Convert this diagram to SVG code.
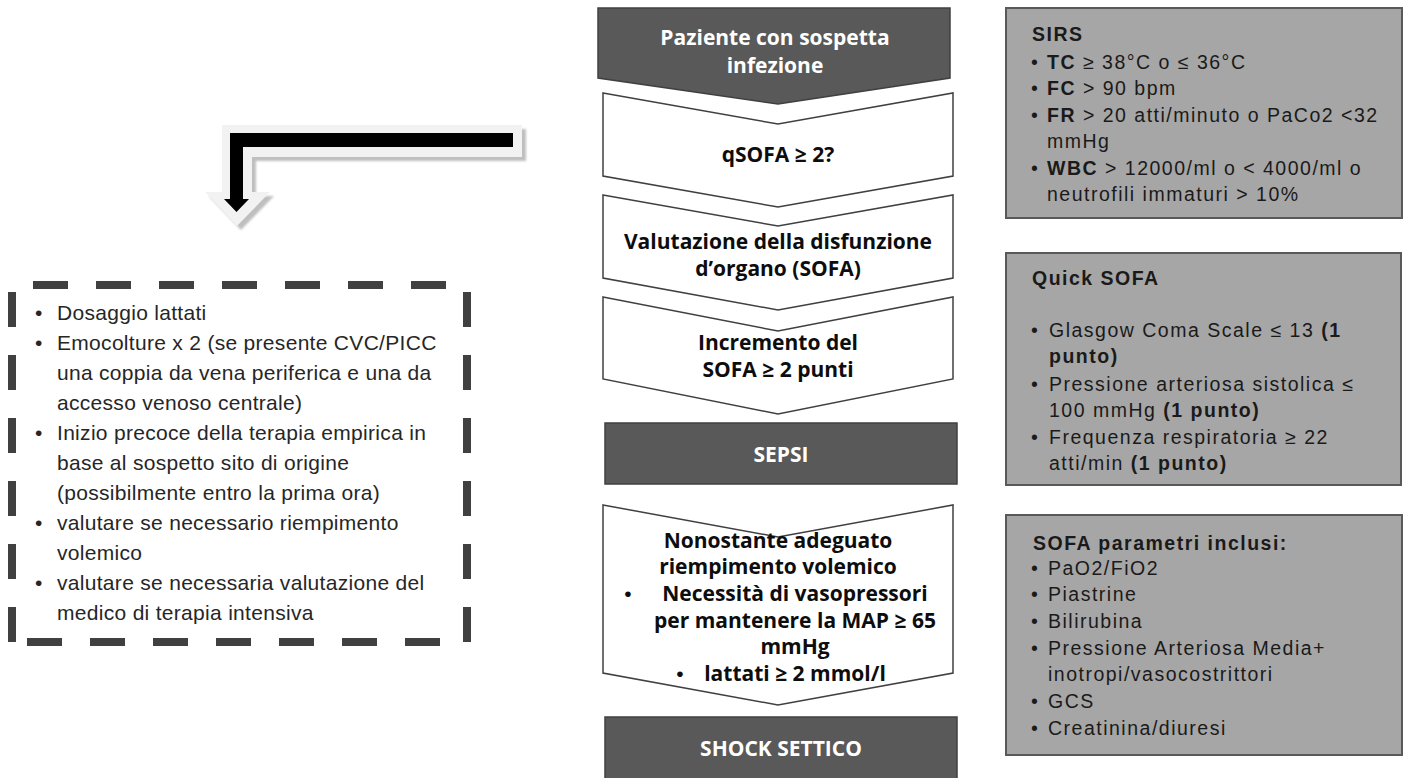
<svg xmlns="http://www.w3.org/2000/svg" width="1408" height="778" viewBox="0 0 1408 778">
<defs>
<style>
.dk{fill:#595959;stroke:#404040;stroke-width:1.5}
.wt{fill:#ffffff;stroke:#404040;stroke-width:1.5}
.gb{fill:#a6a6a6;stroke:#595959;stroke-width:2}
.ct{font-family:"Open Sans","Noto Sans","DejaVu Sans",sans-serif;font-weight:bold;font-size:21px;fill:#0d0d0d;text-anchor:middle}
.cw{font-family:"Open Sans","Noto Sans","DejaVu Sans",sans-serif;font-weight:bold;font-size:21px;fill:#ffffff;text-anchor:middle}
.cb{font-family:"Liberation Sans",Arial,sans-serif;font-size:21px;fill:#0d0d0d;text-anchor:middle}
.bx{font-family:"Liberation Sans",Arial,sans-serif;font-size:21px;fill:#262626;letter-spacing:0.3px}
.rb{font-family:"Liberation Sans",Arial,sans-serif;font-size:19.5px;fill:#1a1a1a;letter-spacing:1.5px}
.b{font-weight:bold}
.dash{stroke:#404040;stroke-width:8;stroke-dasharray:35 28;fill:none}
</style>
<filter id="blur" x="-10%" y="-10%" width="120%" height="120%"><feGaussianBlur stdDeviation="1"/></filter>
</defs>

<g id="bent-arrow">
<path d="M526,129 L226,129 L226,196 L209,196 L241,230 L274,196 L256,196 L256,161 L526,161 Z" fill="#bfbfbf" filter="url(#blur)"/>
<path d="M522,125 L222,125 L222,192 L205,192 L237,226 L270,192 L252,192 L252,157 L522,157 Z" fill="#f2f2f2"/>
<path d="M513,133 L230,133 L230,199 L224,199 L236.5,212 L249,199 L243,199 L243,147 L513,147 Z" fill="#000000"/>
</g>

<g id="actions-box">
<path class="dash" d="M33,285 H448"/>
<path class="dash" d="M27,642 H441"/>
<path class="dash" d="M12,292 V645"/>
<path class="dash" d="M467,292 V645"/>
<text class="bx" x="35" y="320">•</text><text class="bx" x="57" y="320">Dosaggio lattati</text>
<text class="bx" x="35" y="350">•</text><text class="bx" x="57" y="350">Emocolture x 2 (se presente CVC/PICC</text>
<text class="bx" x="57" y="380">una coppia da vena periferica e una da</text>
<text class="bx" x="57" y="410">accesso venoso centrale)</text>
<text class="bx" x="35" y="440">•</text><text class="bx" x="57" y="440">Inizio precoce della terapia empirica in</text>
<text class="bx" x="57" y="470">base al sospetto sito di origine</text>
<text class="bx" x="57" y="500">(possibilmente entro la prima ora)</text>
<text class="bx" x="35" y="530">•</text><text class="bx" x="57" y="530">valutare se necessario riempimento</text>
<text class="bx" x="57" y="560">volemico</text>
<text class="bx" x="35" y="590">•</text><text class="bx" x="57" y="590">valutare se necessaria valutazione del</text>
<text class="bx" x="57" y="620">medico di terapia intensiva</text>
</g>

<g id="paziente">
<path class="dk" d="M598,8 L950,8 L950,78 L778,104 L598,78 Z"/>
<text class="cw" x="775" y="45">Paziente con sospetta</text>
<text class="cw" x="775" y="73">infezione</text>
</g>

<g id="qsofa">
<path class="wt" d="M603,93 L778,124 L953,93 L953,176 L778,207 L603,176 Z"/>
<text class="ct" x="778" y="162">qSOFA ≥ 2?</text>
</g>

<g id="valutazione">
<path class="wt" d="M603,195 L778,226 L953,195 L953,278 L778,310 L603,278 Z"/>
<text class="ct" x="778" y="249">Valutazione della disfunzione</text>
<text class="ct" x="778" y="276">d’organo (SOFA)</text>
</g>

<g id="incremento">
<path class="wt" d="M603,297 L778,331 L953,297 L953,379 L778,414 L603,379 Z"/>
<text class="ct" x="778" y="350">Incremento del</text>
<text class="ct" x="778" y="377">SOFA ≥ 2 punti</text>
</g>

<g id="sepsi">
<rect class="dk" x="605" y="423" width="352" height="61"/>
<text class="cw" x="781" y="462">SEPSI</text>
</g>

<g id="nonostante">
<path class="wt" d="M603,505 L778,537 L953,505 L953,673 L778,705 L603,673 Z"/>
<text class="ct" x="778" y="548">Nonostante adeguato</text>
<text class="ct" x="778" y="574">riempimento volemico</text>
<text class="cb" x="628" y="601">•</text>
<text class="ct" x="795" y="601">Necessità di vasopressori</text>
<text class="ct" x="795" y="628">per mantenere la MAP ≥ 65</text>
<text class="ct" x="795" y="654">mmHg</text>
<text class="cb" x="680" y="681">•</text>
<text class="ct" x="795" y="681">lattati ≥ 2 mmol/l</text>
</g>

<g id="shock">
<rect class="dk" x="605" y="717" width="352" height="66"/>
<text class="cw" x="781" y="756">SHOCK SETTICO</text>
</g>

<g id="sirs">
<rect class="gb" x="1006" y="8" width="396" height="210"/>
<text class="rb b" x="1032" y="41">SIRS</text>
<text class="rb" x="1031" y="69">•</text><text class="rb" x="1047" y="69"><tspan class="b">TC</tspan> ≥ 38°C o ≤ 36°C</text>
<text class="rb" x="1031" y="95">•</text><text class="rb" x="1047" y="95"><tspan class="b">FC</tspan> &gt; 90 bpm</text>
<text class="rb" x="1031" y="122">•</text><text class="rb" x="1047" y="122"><tspan class="b">FR</tspan> &gt; 20 atti/minuto o PaCo2 &lt;32</text>
<text class="rb" x="1047" y="148">mmHg</text>
<text class="rb" x="1031" y="175">•</text><text class="rb" x="1047" y="175"><tspan class="b">WBC</tspan> &gt; 12000/ml o &lt; 4000/ml o</text>
<text class="rb" x="1047" y="201">neutrofili immaturi &gt; 10%</text>
</g>

<g id="quick-sofa">
<rect class="gb" x="1006" y="253" width="395" height="232"/>
<text class="rb b" x="1032" y="285">Quick SOFA</text>
<text class="rb" x="1031" y="337">•</text><text class="rb" x="1049" y="337">Glasgow Coma Scale ≤ 13 <tspan class="b">(1</tspan></text>
<text class="rb b" x="1049" y="363">punto)</text>
<text class="rb" x="1031" y="391">•</text><text class="rb" x="1049" y="391">Pressione arteriosa sistolica ≤</text>
<text class="rb" x="1049" y="417">100 mmHg <tspan class="b">(1 punto)</tspan></text>
<text class="rb" x="1031" y="444">•</text><text class="rb" x="1049" y="444">Frequenza respiratoria ≥ 22</text>
<text class="rb" x="1049" y="470">atti/min <tspan class="b">(1 punto)</tspan></text>
</g>

<g id="sofa-parametri">
<rect class="gb" x="1006" y="515" width="396" height="240"/>
<text class="rb b" x="1033" y="550">SOFA parametri inclusi:</text>
<text class="rb" x="1031" y="575">•</text><text class="rb" x="1048" y="575">PaO2/FiO2</text>
<text class="rb" x="1031" y="601">•</text><text class="rb" x="1048" y="601">Piastrine</text>
<text class="rb" x="1031" y="628">•</text><text class="rb" x="1048" y="628">Bilirubina</text>
<text class="rb" x="1031" y="655">•</text><text class="rb" x="1048" y="655">Pressione Arteriosa Media+</text>
<text class="rb" x="1048" y="681">inotropi/vasocostrittori</text>
<text class="rb" x="1031" y="708">•</text><text class="rb" x="1048" y="708">GCS</text>
<text class="rb" x="1031" y="735">•</text><text class="rb" x="1048" y="735">Creatinina/diuresi</text>
</g>
</svg>
